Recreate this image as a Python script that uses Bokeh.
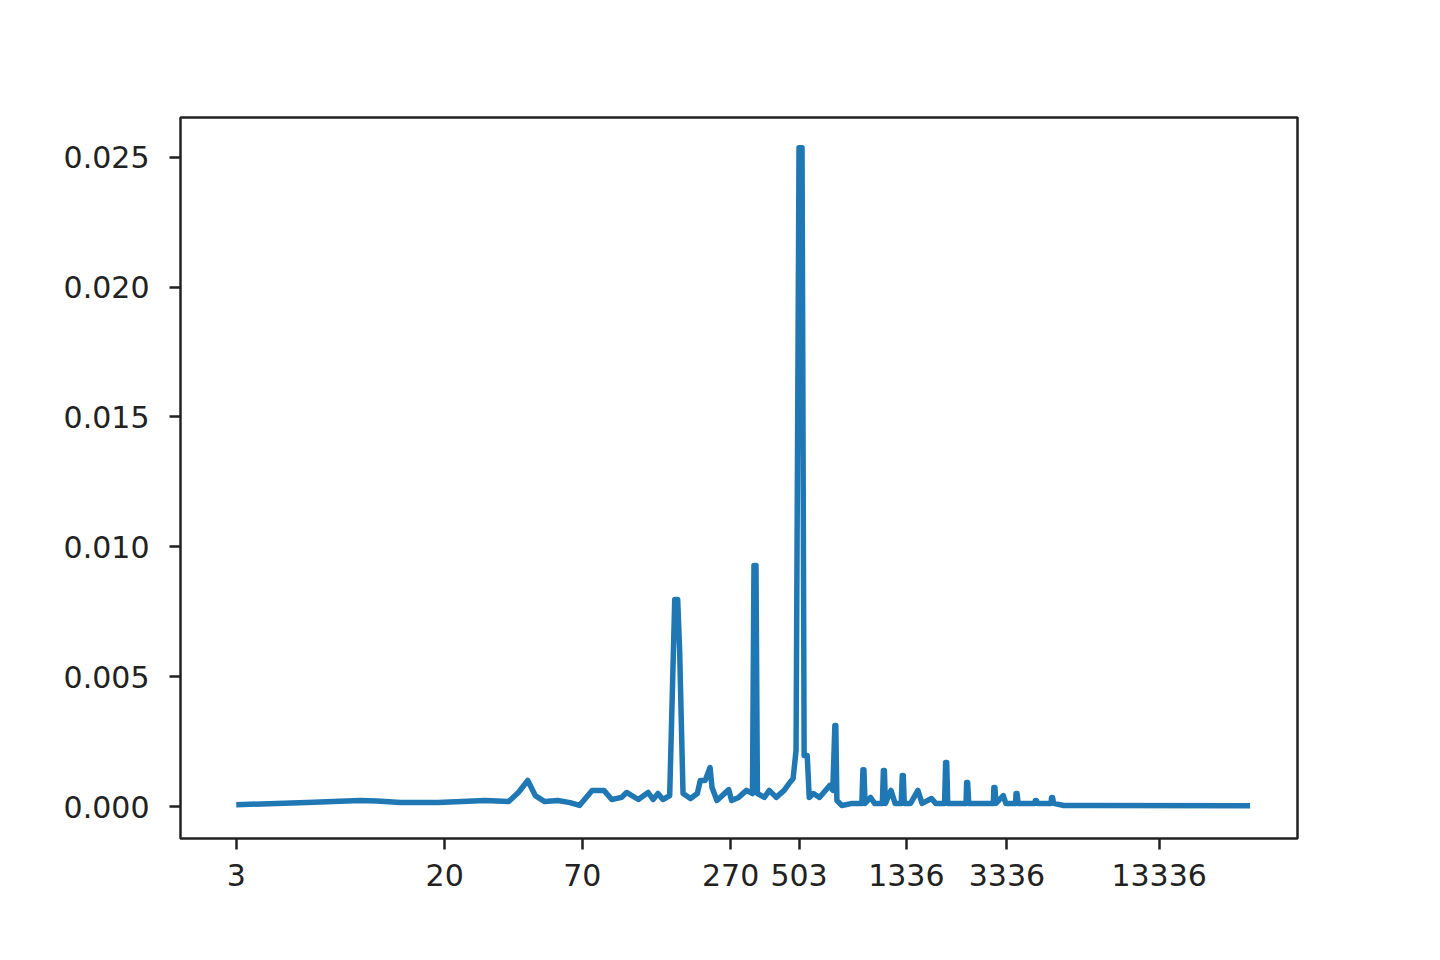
from bokeh.plotting import figure
from bokeh.models import Range1d, FixedTicker, PrintfTickFormatter
from bokeh.embed import file_html
from bokeh.resources import INLINE

x_vals = [3, 5.70, 9.26, 10.8, 13.4, 18.8, 28.9, 35.8, 39.1, 42.6, 45.6, 49.7, 56.0, 62.6, 68.2,
          76.5, 85.2, 91.5, 100.1, 104.7, 116.5, 127.4, 133.3, 139.4, 145.7,
          155.0, 162.3, 166.7, 169.7, 175.0,
          187.3, 199.3, 204.7, 214.1, 223.8, 227.9, 238.3, 265.3, 272.4, 290.2,
          311.9, 329.3, 333.8, 340.0, 344.4, 366.9, 383.8,
          408.8, 439.3, 459.8, 476.6, 489.6, 503, 517, 527, 542, 552, 573, 606, 665, 684,
          697, 703, 710, 743, 816, 891, 900, 908, 917, 965, 1001, 1074, 1084, 1094, 1104,
          1162, 1206, 1275, 1287, 1299, 1311, 1388, 1484, 1541, 1680, 1745, 1892, 1910, 1929,
          1947, 2112, 2301, 2312, 2334, 2356, 2655, 2949, 2963, 2991, 3020, 3228, 3305, 3610,
          3626, 3660, 3694, 4301, 4322, 4362, 4402, 4986, 5009, 5055, 5103, 5597, 6732, 30520]
y_vals = [0.00007, 0.00015, 0.00023, 0.00021, 0.00015, 0.00015, 0.00023, 0.00019, 0.00054,
          0.00100, 0.00042, 0.00019, 0.00023, 0.00015, 0.00004, 0.00062, 0.00062, 0.00027,
          0.00035, 0.00054, 0.00027, 0.00054, 0.00027, 0.00050, 0.00027,
          0.00042, 0.00797, 0.00797, 0.00600, 0.00050,
          0.00031, 0.00050, 0.00100, 0.00100, 0.00150, 0.00073, 0.00023, 0.00065, 0.00023,
          0.00035, 0.00062, 0.00050, 0.00928, 0.00928, 0.00050, 0.00035, 0.00062,
          0.00035, 0.00062, 0.00089, 0.00108, 0.00216, 0.02537, 0.02537, 0.00196, 0.00196,
          0.00035, 0.00050, 0.00035, 0.00081, 0.00062, 0.00312, 0.00312, 0.00023, 0.00004,
          0.00012, 0.00012, 0.00142, 0.00142, 0.00012, 0.00035, 0.00012, 0.00012, 0.00139,
          0.00139, 0.00012, 0.00062, 0.00012, 0.00012, 0.00119, 0.00119, 0.00012, 0.00012,
          0.00062, 0.00012, 0.00031, 0.00012, 0.00012, 0.00169, 0.00169, 0.00012, 0.00012,
          0.00012, 0.00092, 0.00092, 0.00012, 0.00012, 0.00012, 0.00073, 0.00073, 0.00012,
          0.00042, 0.00012, 0.00012, 0.00050, 0.00050, 0.00012, 0.00012, 0.00023, 0.00023,
          0.00012, 0.00012, 0.00035, 0.00035, 0.00012, 0.00004, 0.00004, 0.00003]

x_ticks = [3, 20, 70, 270, 503, 1336, 3336, 13336]
y_ticks = [0.000, 0.005, 0.010, 0.015, 0.020, 0.025]

p = figure(width=1424, height=944, x_axis_type="log", output_backend="svg",
           toolbar_location=None,
           x_range=Range1d(1.806, 46980), y_range=Range1d(-0.001232, 0.02653),
           min_border_left=180, min_border_right=127, min_border_top=117,
           min_border_bottom=106)

p.line(x_vals, y_vals, line_color="#1f77b4", line_width=5.5, line_join="round")

p.xgrid.visible = False
p.ygrid.visible = False
p.outline_line_color = "#222222"
p.outline_line_width = 2.5
p.background_fill_color = "white"
p.border_fill_color = "white"

p.xaxis.ticker = FixedTicker(ticks=x_ticks, minor_ticks=[])
p.xaxis.formatter = PrintfTickFormatter(format="%d")
p.yaxis.ticker = FixedTicker(ticks=y_ticks, minor_ticks=[])
p.yaxis.formatter = PrintfTickFormatter(format="%.3f")

for ax in (p.xaxis, p.yaxis):
    ax.axis_line_color = None
    ax.major_tick_line_color = "#222222"
    ax.major_tick_line_width = 2.5
    ax.major_tick_out = 11
    ax.major_tick_in = 0
    ax.minor_tick_line_color = None
    ax.major_label_text_font = "DejaVu Sans"
    ax.major_label_text_font_size = "30px"
    ax.major_label_text_color = "#222222"

p.yaxis.major_label_standoff = 20
p.xaxis.major_label_standoff = 14

open("out.html", "w").write(file_html(p, INLINE))
